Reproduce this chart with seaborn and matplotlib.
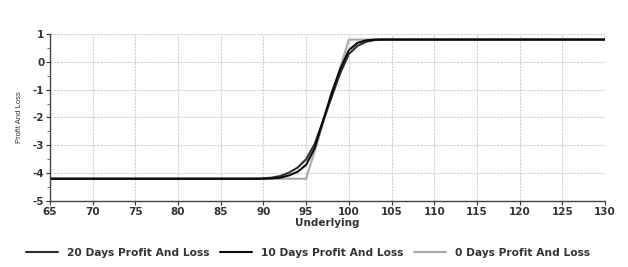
import matplotlib
matplotlib.use("Agg")
import matplotlib.pyplot as plt
from matplotlib.ticker import MultipleLocator
import seaborn as sns
import pandas as pd

# ---- data ----
x_20d = [65, 89, 90, 91, 92, 93, 94, 95, 96, 97, 98, 99, 100, 101, 102, 103, 104, 105, 130]
y_20d = [-4.20, -4.20, -4.19, -4.16, -4.10, -3.98, -3.80, -3.50, -2.95, -2.10, -1.25, -0.40,
         0.28, 0.57, 0.72, 0.78, 0.80, 0.80, 0.80]

x_10d = [65, 89.5, 91, 92, 93, 94, 95, 96, 97, 98, 99, 100, 101, 102, 103, 104, 130]
y_10d = [-4.20, -4.20, -4.19, -4.16, -4.08, -3.95, -3.70, -3.10, -2.10, -1.10, -0.25,
         0.42, 0.68, 0.77, 0.80, 0.80, 0.80]

x_0d = [65, 95, 100, 130]
y_0d = [-4.20, -4.20, 0.80, 0.80]

series_names = ["20 Days Profit And Loss", "10 Days Profit And Loss", "0 Days Profit And Loss"]
x_ticks = [65, 70, 75, 80, 85, 90, 95, 100, 105, 110, 115, 120, 125, 130]
y_ticks = [1, 0, -1, -2, -3, -4, -5]

sns.set_theme(style="white")
plt.rcParams["font.family"] = ["DejaVu Sans"]
plt.rcParams["axes.unicode_minus"] = False

fig = plt.figure(figsize=(6.28, 2.67), dpi=100)
ax = fig.add_axes([50 / 628, 1 - 201 / 267, 555 / 628, 167 / 267])

df = pd.concat([
    pd.DataFrame({"x": x_20d, "y": y_20d, "s": series_names[0]}),
    pd.DataFrame({"x": x_10d, "y": y_10d, "s": series_names[1]}),
    pd.DataFrame({"x": x_0d, "y": y_0d, "s": series_names[2]}),
])
palette = {series_names[0]: "#2e2e2e", series_names[1]: "#0a0a0a", series_names[2]: "#a8a8a8"}

# draw 0 days first so black curves sit on top
for name in [series_names[2], series_names[0], series_names[1]]:
    d = df[df["s"] == name]
    sns.lineplot(data=d, x="x", y="y", ax=ax, color=palette[name], linewidth=1.5,
                 estimator=None, sort=False, label=name, legend=False)

ax.set_xlim(65, 130)
ax.set_ylim(-5, 1)
ax.set_xticks(x_ticks)
ax.set_yticks(y_ticks)
ax.yaxis.set_minor_locator(MultipleLocator(0.5))
ax.tick_params(axis="both", which="major", labelsize=7.5, length=3, width=0.8,
               colors="#333333", direction="out", pad=1)
ax.tick_params(axis="y", which="minor", length=2, width=0.6, colors="#555555", left=True)
ax.tick_params(axis="x", which="major", bottom=True)
ax.tick_params(axis="y", which="major", left=True)
for lab in ax.get_xticklabels() + ax.get_yticklabels():
    lab.set_fontweight("bold")
    lab.set_color("#333333")

ax.grid(True, which="major", color="#d0d0d0", linewidth=0.8, linestyle=(0, (2, 1)))
for s in ["top", "right"]:
    ax.spines[s].set_visible(False)
for s in ["left", "bottom"]:
    ax.spines[s].set_color("#444444")
    ax.spines[s].set_linewidth(1.0)

ax.set_xlabel("Underlying", fontsize=7.5, fontweight="bold", color="#333333", labelpad=1)
ax.set_ylabel("Profit And Loss", fontsize=5.5, color="#333333", labelpad=7,
              family=["Liberation Sans", "DejaVu Sans"])

handles, labels = ax.get_legend_handles_labels()
order = [labels.index(n) for n in series_names]
fig.legend([handles[i] for i in order], [labels[i] for i in order],
           loc="center", bbox_to_anchor=(308 / 628, 1 - 253 / 267), ncol=3, frameon=False,
           handlelength=3.0, columnspacing=1.0, handletextpad=0.8,
           prop={"size": 7.7, "weight": "bold"}, labelcolor="#333333")

fig.savefig("out.png", dpi=100, facecolor="white")
